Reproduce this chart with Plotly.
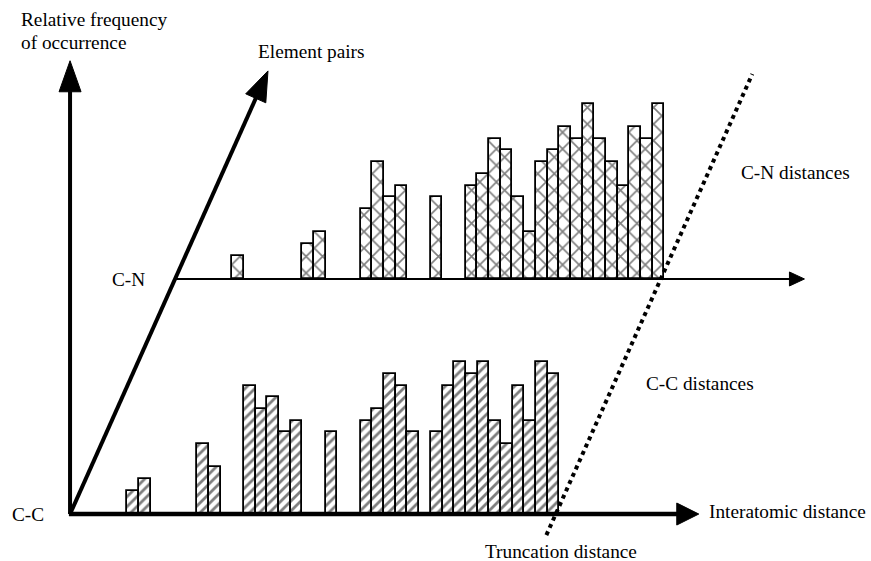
import plotly.graph_objects as go

# ---------------- data (distance bins and relative frequency units) -------------
cc_bins = [0, 1, 6, 7, 10, 11, 12, 13, 14, 17, 20, 21, 22, 23, 24,
           26, 27, 28, 29, 30, 31, 32, 33, 34, 35, 36]
cc_freq = [2, 3, 6, 4, 11, 9, 10, 7, 8, 7, 8, 9, 12, 11, 7,
           7, 11, 13, 12, 13, 8, 6, 11, 8, 13, 12]

cn_bins = [0, 6, 7, 11, 12, 13, 14, 17, 20, 21, 22, 23, 24, 25, 26, 27,
           28, 29, 30, 31, 32, 33, 34, 35, 36]
cn_freq = [2, 3, 4, 6, 10, 7, 8, 7, 8, 9, 12, 11, 7, 4, 10, 11,
           13, 12, 15, 12, 10, 8, 13, 12, 15]

truncation_bin = 37          # end of last distance bin
first_bin_offset = 4.9       # distance from origin to first bin edge
cn_level = 20.12             # height of the C-N plane along the frequency axis
oblique = 198.0 / 443.0      # horizontal shift per unit along the element-pairs axis
cn_shift = cn_level * oblique

labels = {
    "yaxis": ["Relative frequency", "of occurrence"],
    "zaxis": "Element pairs",
    "xaxis": "Interatomic distance",
    "cn": "C-N",
    "cc": "C-C",
    "cn_dist": "C-N distances",
    "cc_dist": "C-C distances",
    "trunc": "Truncation distance",
}

# ---------------- layout geometry ----------------
W, H = 871, 561
X_RANGE = [-6.0, 68.6]
Y_RANGE = [-4.02, 44.0]
SX = W / (X_RANGE[1] - X_RANGE[0])
SY = H / (Y_RANGE[1] - Y_RANGE[0])
FONT = dict(family="Liberation Serif, Times New Roman, serif", size=19.3, color="black")

fig = go.Figure()

fig.add_trace(go.Bar(
    x=[first_bin_offset + b + 0.5 for b in cc_bins],
    y=cc_freq, base=0, width=1.0,
    marker=dict(color="white",
                line=dict(color="black", width=1.8),
                pattern=dict(shape="/", size=7, solidity=0.4,
                             fgcolor="black", bgcolor="white")),
    hoverinfo="skip", showlegend=False))

fig.add_trace(go.Bar(
    x=[first_bin_offset + cn_shift + b + 0.5 for b in cn_bins],
    y=cn_freq, base=cn_level, width=1.0,
    marker=dict(color="white",
                line=dict(color="black", width=1.8),
                pattern=dict(shape="x", size=11.7, solidity=0.26,
                             fgcolor="black", bgcolor="white")),
    hoverinfo="skip", showlegend=False))

shapes = []


def arrow(x0, y0, x1, y1, width, head_len, head_half):
    # head sizes given in pixels; convert to data units
    dx, dy = x1 - x0, y1 - y0
    L = (dx * dx + dy * dy) ** 0.5
    ux, uy = dx / L, dy / L
    hl = head_len / SX
    hw = head_half / SX
    bx, by = x1 - ux * hl, y1 - uy * hl
    shapes.append(dict(type="line", x0=x0, y0=y0, x1=bx + ux * 0.05, y1=by + uy * 0.05,
                       line=dict(color="black", width=width), layer="above"))
    px, py = -uy, ux
    path = (f"M {x1},{y1} L {bx + px * hw},{by + py * hw} "
            f"L {bx - px * hw},{by - py * hw} Z")
    shapes.append(dict(type="path", path=path, fillcolor="black",
                       line=dict(color="black", width=1), layer="above"))


# frequency axis
arrow(0, 0, 0, 38.8, 4, 31, 11)
# element pairs (oblique) axis
top_v = 37.93
arrow(0, 0, top_v * oblique, top_v, 4, 30, 11)
# C-C distance axis
arrow(-0.1, 0, 53.85, 0, 4.5, 22, 11)
# C-N distance axis
arrow(cn_shift, cn_level, 62.9, cn_level, 1.8, 15, 7)

# truncation distance dotted line
t_top, t_bot = 37.67, -1.8
t_x = first_bin_offset + truncation_bin - 0.3
shapes.append(dict(type="line",
                   x0=t_x + t_bot * oblique, y0=t_bot,
                   x1=t_x + t_top * oblique, y1=t_top,
                   line=dict(color="black", width=4, dash="4px,4px"), layer="above"))

fig.update_layout(shapes=shapes)


def text(s, px, py):
    fig.add_annotation(text=s, x=px / W, y=1 - py / H, xref="paper", yref="paper",
                       xanchor="left", yanchor="middle", showarrow=False, font=FONT)


text(labels["yaxis"][0], 19, 20)
text(labels["yaxis"][1], 19, 42.5)
text(labels["zaxis"], 256, 51.5)
text(labels["cn"], 110, 280)
text(labels["cc"], 10, 514)
text(labels["xaxis"], 707, 511)
text(labels["trunc"], 483, 551)
text(labels["cn_dist"], 739, 173)
text(labels["cc_dist"], 644, 383.5)

fig.update_layout(
    width=W, height=H, margin=dict(l=0, r=0, t=0, b=0),
    paper_bgcolor="white", plot_bgcolor="white",
    bargap=0, barmode="overlay",
    xaxis=dict(range=X_RANGE, visible=False, fixedrange=True),
    yaxis=dict(range=Y_RANGE, visible=False, fixedrange=True),
    showlegend=False,
)

fig.write_html("out.html", config={"displayModeBar": False},
               post_script="document.body.style.margin='0';"
                           "document.body.style.overflow='hidden';")
